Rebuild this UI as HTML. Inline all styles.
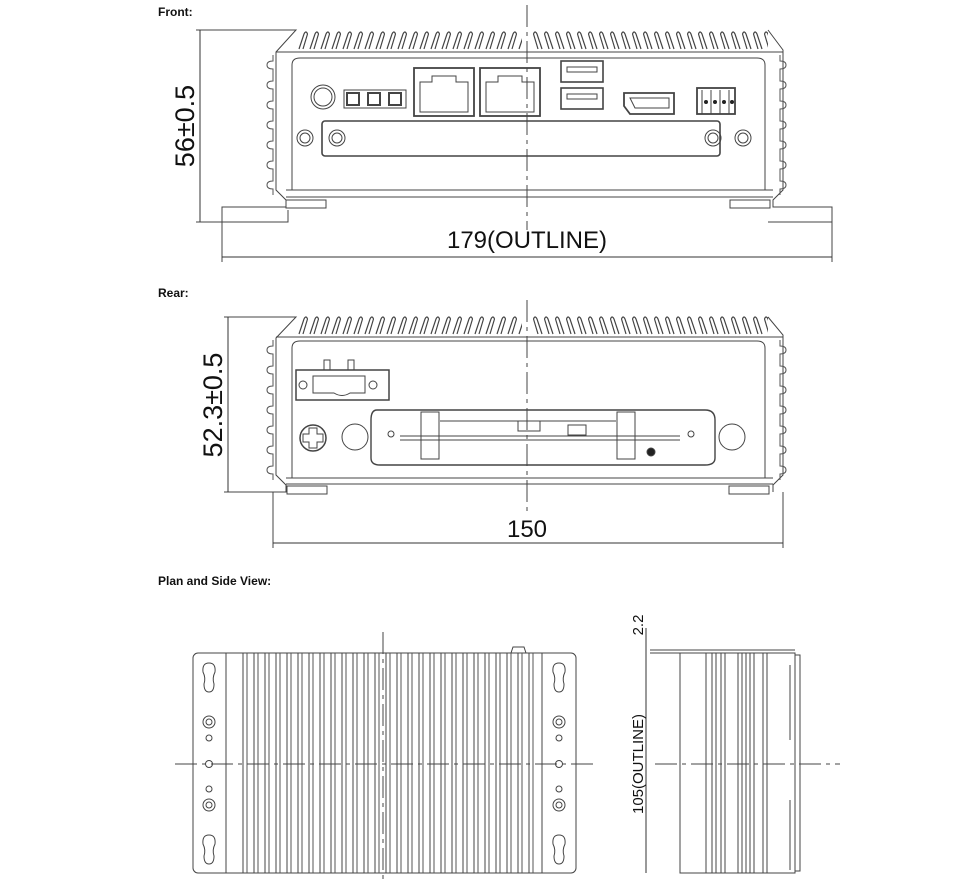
<!DOCTYPE html>
<html><head><meta charset="utf-8"><style>
html,body{margin:0;padding:0;background:#fff;}
svg{display:block}
text{font-family:"Liberation Sans",Arial,sans-serif;fill:#111}
</style></head><body>
<svg width="960" height="884" viewBox="0 0 960 884" xmlns="http://www.w3.org/2000/svg">
<defs>
<pattern id="finL" x="0" y="0" width="11" height="20" patternUnits="userSpaceOnUse">
<path d="M2 19 L7 4 Q9 0 10.5 4 L6 19" fill="none" stroke="#444" stroke-width="1.2"/>
</pattern>
<pattern id="finR" x="0" y="0" width="11" height="20" patternUnits="userSpaceOnUse">
<path d="M9 19 L4 4 Q2 0 0.5 4 L5 19" fill="none" stroke="#444" stroke-width="1.2"/>
</pattern>
<pattern id="bumpL" x="0" y="0" width="20" height="20" patternUnits="userSpaceOnUse">
<path d="M10 0 L10 6 Q4 6 4 10 Q4 14 10 14 L10 20" fill="none" stroke="#555" stroke-width="1"/>
</pattern>
<pattern id="bumpR" x="0" y="0" width="20" height="20" patternUnits="userSpaceOnUse">
<path d="M10 0 L10 6 Q16 6 16 10 Q16 14 10 14 L10 20" fill="none" stroke="#555" stroke-width="1"/>
</pattern>
<pattern id="vfins" x="0" y="0" width="11" height="10" patternUnits="userSpaceOnUse">
<line x1="1" y1="0" x2="1" y2="10" stroke="#444" stroke-width="1"/>
<line x1="5" y1="0" x2="5" y2="10" stroke="#555" stroke-width="1"/>
</pattern>
</defs>
<g fill="none" stroke="#444" stroke-width="1">

<!-- ================= FRONT ================= -->
<text x="158" y="16" font-size="12" font-weight="bold" stroke="none">Front:</text>
<g transform="translate(297,30)"><rect x="0" y="0" width="225" height="20" fill="url(#finL)" stroke="none"/></g>
<g transform="translate(533,30)"><rect x="0" y="0" width="235" height="20" fill="url(#finR)" stroke="none"/></g>
<path d="M196 30 L296 30 L276 52 L276 190 L286 200 L286 207 L222 207 L222 222 L288 222 L288 210"/>
<path d="M768 30 L783 50 L783 190 L773 200 L773 207 L832 207 L832 222 L768 222"/>
<g transform="translate(263,55)"><rect x="0" y="0" width="20" height="140" fill="url(#bumpL)" stroke="none"/></g>
<g transform="translate(770,55)"><rect x="0" y="0" width="20" height="140" fill="url(#bumpR)" stroke="none"/></g>
<path d="M276 52 L783 52"/>
<path d="M292 190 L292 65 Q292 58 300 58 L757 58 Q765 58 765 65 L765 190"/>
<path d="M286 190 L773 190 M286 197 L773 197"/>
<rect x="286" y="200" width="40" height="8"/><rect x="730" y="200" width="40" height="8"/>
<circle cx="323" cy="97" r="12"/><circle cx="323" cy="97" r="9"/>
<rect x="344" y="90" width="62" height="18"/>
<rect x="347" y="93" width="12" height="12" stroke-width="2"/>
<rect x="368" y="93" width="12" height="12" stroke-width="2"/>
<rect x="389" y="93" width="12" height="12" stroke-width="2"/>
<rect x="414" y="68" width="60" height="48" stroke-width="1.8"/>
<path d="M420 112 L420 82 L432 82 L432 76 L456 76 L456 82 L468 82 L468 112 Z"/>
<rect x="480" y="68" width="60" height="48" stroke-width="1.8"/>
<path d="M486 112 L486 82 L498 82 L498 76 L522 76 L522 82 L534 82 L534 112 Z"/>
<rect x="561" y="61" width="42" height="21" stroke-width="1.6"/><rect x="567" y="67" width="30" height="5"/>
<rect x="561" y="88" width="42" height="21" stroke-width="1.6"/><rect x="567" y="94" width="30" height="5"/>
<path d="M624 93 L674 93 L674 114 L630 114 L624 106 Z" stroke-width="1.8"/>
<path d="M630 98 L669 98 L669 108 L635 108 Z"/>
<rect x="697" y="88" width="38" height="26" stroke-width="1.8"/>
<g fill="#222" stroke="none"><circle cx="706" cy="102" r="2"/><circle cx="715" cy="102" r="2"/><circle cx="724" cy="102" r="2"/><circle cx="732" cy="102" r="2"/></g>
<path d="M702 90 L702 114 M711 90 L711 114 M720 90 L720 114 M729 90 L729 114"/>
<rect x="322" y="121" width="398" height="35" rx="3" stroke-width="1.6"/>
<circle cx="305" cy="138" r="8"/><circle cx="305" cy="138" r="5"/>
<circle cx="337" cy="138" r="8"/><circle cx="337" cy="138" r="5"/>
<circle cx="713" cy="138" r="8"/><circle cx="713" cy="138" r="5"/>
<circle cx="743" cy="138" r="8"/><circle cx="743" cy="138" r="5"/>
<!-- dims -->
<line x1="200" y1="30" x2="200" y2="222" stroke="#333"/>
<line x1="196" y1="222" x2="222" y2="222"/>
<line x1="222" y1="222" x2="222" y2="262"/><line x1="832" y1="222" x2="832" y2="262"/>
<line x1="222" y1="257" x2="832" y2="257" stroke="#333"/>
<line x1="527" y1="5" x2="527" y2="230" stroke-dasharray="22,5,4,5"/>

<!-- ================= REAR ================= -->
<text x="158" y="297" font-size="12" font-weight="bold" stroke="none">Rear:</text>
<g transform="translate(297,315)"><rect x="0" y="0" width="225" height="20" fill="url(#finL)" stroke="none"/></g>
<g transform="translate(533,315)"><rect x="0" y="0" width="235" height="20" fill="url(#finR)" stroke="none"/></g>
<path d="M224 317 L296 317 L276 338 L276 475 L286 485 L286 492 L224 492"/>
<path d="M768 317 L783 335 L783 475 L773 485 L773 492"/>
<g transform="translate(263,340)"><rect x="0" y="0" width="20" height="140" fill="url(#bumpL)" stroke="none"/></g>
<g transform="translate(770,340)"><rect x="0" y="0" width="20" height="140" fill="url(#bumpR)" stroke="none"/></g>
<path d="M276 337 L783 337"/>
<path d="M292 478 L292 348 Q292 341 300 341 L757 341 Q765 341 765 348 L765 478"/>
<path d="M286 478 L773 478 M286 484 L773 484"/>
<rect x="287" y="486" width="40" height="8"/><rect x="729" y="486" width="40" height="8"/>
<rect x="296" y="370" width="93" height="30" stroke-width="1.5"/>
<path d="M324 370 L324 360 L330 360 L330 370 M348 370 L348 360 L354 360 L354 370"/>
<path d="M313 376 L365 376 L365 393 L350 393 Q342 398 334 393 L313 393 Z"/>
<circle cx="303" cy="385" r="4"/><circle cx="373" cy="385" r="4"/>
<circle cx="313" cy="438" r="13" stroke-width="1.5"/>
<path d="M309 428 L317 428 L317 434 L323 434 L323 442 L317 442 L317 448 L309 448 L309 442 L303 442 L303 434 L309 434 Z"/>
<circle cx="355" cy="437" r="13"/><circle cx="732" cy="437" r="13"/>
<path d="M377 410 L705 410 Q715 410 715 420 L715 458 Q715 465 705 465 L380 465 Q371 465 371 458 L371 420 Q371 410 377 410 Z" stroke-width="1.4"/>
<rect x="421" y="412" width="18" height="47"/><rect x="617" y="412" width="18" height="47"/>
<path d="M400 440 L680 440 M400 436 L680 436 M440 421 L616 421"/>
<rect x="518" y="421" width="22" height="10"/><rect x="568" y="425" width="18" height="10"/>
<circle cx="391" cy="434" r="3"/><circle cx="691" cy="434" r="3"/>
<circle cx="651" cy="452" r="4" fill="#222"/>
<!-- dims -->
<line x1="228" y1="317" x2="228" y2="492" stroke="#333"/>
<line x1="273" y1="492" x2="273" y2="548"/><line x1="783" y1="492" x2="783" y2="548"/>
<line x1="273" y1="543" x2="783" y2="543" stroke="#333"/>
<line x1="527" y1="300" x2="527" y2="515" stroke-dasharray="22,5,4,5"/>

<!-- ================= PLAN ================= -->
<text x="158" y="585" font-size="12" font-weight="bold" stroke="none">Plan and Side View:</text>
<rect x="193" y="653" width="383" height="220" rx="5"/>
<rect x="226" y="653" width="316" height="220"/>
<g transform="translate(242,653)"><rect x="0" y="0" width="292" height="220" fill="url(#vfins)" stroke="none"/></g>
<path d="M511 653 L513 647 L524 647 L526 653"/>
<g>
<path d="M209 663 Q202 663 203 672 Q206 678 204 684 Q204 692 209 692 Q214 692 214 684 Q212 678 215 672 Q216 663 209 663 Z"/>
<path d="M209 835 Q202 835 203 844 Q206 850 204 856 Q204 864 209 864 Q214 864 214 856 Q212 850 215 844 Q216 835 209 835 Z"/>
<circle cx="209" cy="722" r="6"/><circle cx="209" cy="722" r="3"/><circle cx="209" cy="738" r="3"/>
<circle cx="209" cy="764" r="3.5"/>
<circle cx="209" cy="789" r="3"/><circle cx="209" cy="805" r="6"/><circle cx="209" cy="805" r="3"/>
<path d="M559 663 Q552 663 553 672 Q556 678 554 684 Q554 692 559 692 Q564 692 564 684 Q562 678 565 672 Q566 663 559 663 Z"/>
<path d="M559 835 Q552 835 553 844 Q556 850 554 856 Q554 864 559 864 Q564 864 564 856 Q562 850 565 844 Q566 835 559 835 Z"/>
<circle cx="559" cy="722" r="6"/><circle cx="559" cy="722" r="3"/><circle cx="559" cy="738" r="3"/>
<circle cx="559" cy="764" r="3.5"/>
<circle cx="559" cy="789" r="3"/><circle cx="559" cy="805" r="6"/><circle cx="559" cy="805" r="3"/>
</g>
<line x1="175" y1="764" x2="595" y2="764" stroke-dasharray="22,5,4,5"/>
<line x1="383" y1="632" x2="383" y2="884" stroke-dasharray="22,5,4,5"/>

<!-- side -->
<rect x="680" y="653" width="115" height="220"/>
<path d="M650 650 L795 650 M650 653 L680 653"/>
<rect x="795" y="655" width="5" height="216"/>
<path d="M790 665 L790 740 M790 800 L790 870"/>
<path d="M706 653 L706 873 M712 653 L712 873 M716 653 L716 873 M721 653 L721 873 M725 653 L725 873 M738 653 L738 873 M742 653 L742 873 M746 653 L746 873 M750 653 L750 873 M754 653 L754 873 M763 653 L763 873 M767 653 L767 873"/>
<line x1="646" y1="628" x2="646" y2="873" stroke="#333"/>
<line x1="655" y1="764" x2="840" y2="764" stroke-dasharray="22,5,4,5"/>
</g>

<text transform="translate(194,126) rotate(-90)" font-size="27" text-anchor="middle" stroke="none">56±0.5</text>
<text x="527" y="248" font-size="24" text-anchor="middle" stroke="none">179(OUTLINE)</text>
<text transform="translate(222,405) rotate(-90)" font-size="27" text-anchor="middle" stroke="none">52.3±0.5</text>
<text x="527" y="537" font-size="24" text-anchor="middle" stroke="none">150</text>
<text transform="translate(643,625) rotate(-90)" font-size="15" text-anchor="middle" stroke="none">2.2</text>
<text transform="translate(643,764) rotate(-90)" font-size="15" text-anchor="middle" stroke="none">105(OUTLINE)</text>
</svg>
</body></html>
